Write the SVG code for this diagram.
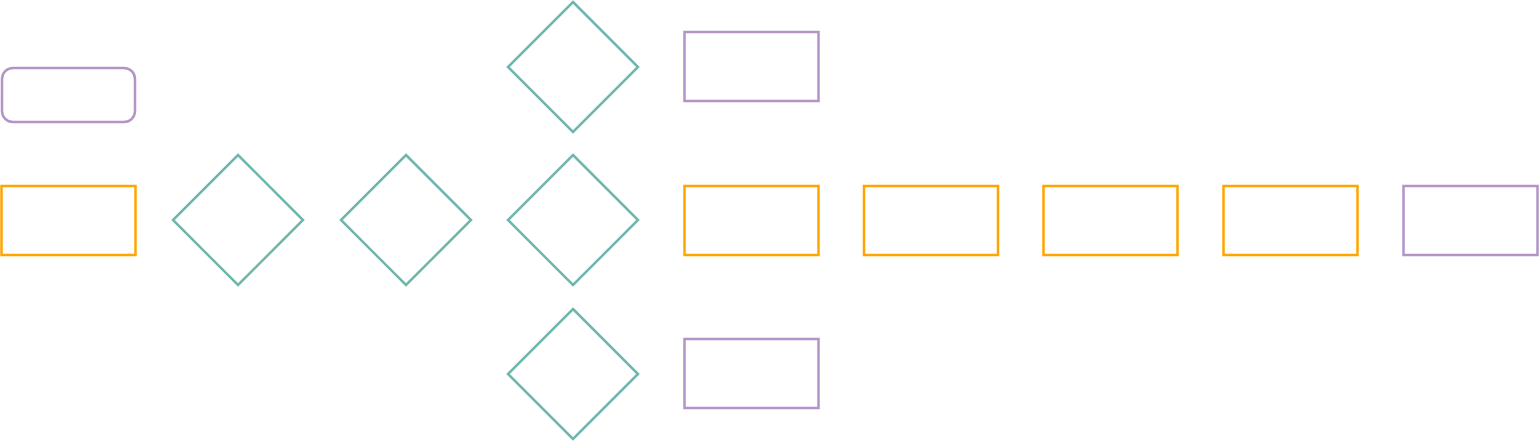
<svg xmlns="http://www.w3.org/2000/svg" width="1539" height="442" viewBox="0 0 1539 442">
<style>
.o{fill:#fff;stroke:#ffa500;stroke-width:2.5}
.p{fill:#fff;stroke:#b294c7;stroke-width:2.5}
.d{fill:#fff;stroke:#6fb6ac;stroke-width:2.5}
</style>
<rect width="1539" height="442" fill="#fff"/>
<g id="connectors"></g>
<g id="start"><rect class="p" x="2" y="68" width="133" height="54" rx="11"/></g>
<g id="n1"><rect class="o" x="1.5" y="186" width="134" height="69"/></g>
<g id="d1"><polygon class="d" points="238,155 303,220 238,285 173,220"/></g>
<g id="d2"><polygon class="d" points="406,155 471,220 406,285 341,220"/></g>
<g id="d3"><polygon class="d" points="573,155 638,220 573,285 508,220"/></g>
<g id="d4"><polygon class="d" points="573,2 638,67 573,132 508,67"/></g>
<g id="d5"><polygon class="d" points="573,309 638,374 573,439 508,374"/></g>
<g id="p1"><rect class="p" x="684.5" y="32" width="134" height="69"/></g>
<g id="p2"><rect class="p" x="684.5" y="339" width="134" height="69"/></g>
<g id="n2"><rect class="o" x="684.5" y="186" width="134" height="69"/></g>
<g id="n3"><rect class="o" x="864" y="186" width="134" height="69"/></g>
<g id="n4"><rect class="o" x="1043.5" y="186" width="134" height="69"/></g>
<g id="n5"><rect class="o" x="1223.5" y="186" width="134" height="69"/></g>
<g id="p3"><rect class="p" x="1403.5" y="186" width="134" height="69"/></g>
</svg>
